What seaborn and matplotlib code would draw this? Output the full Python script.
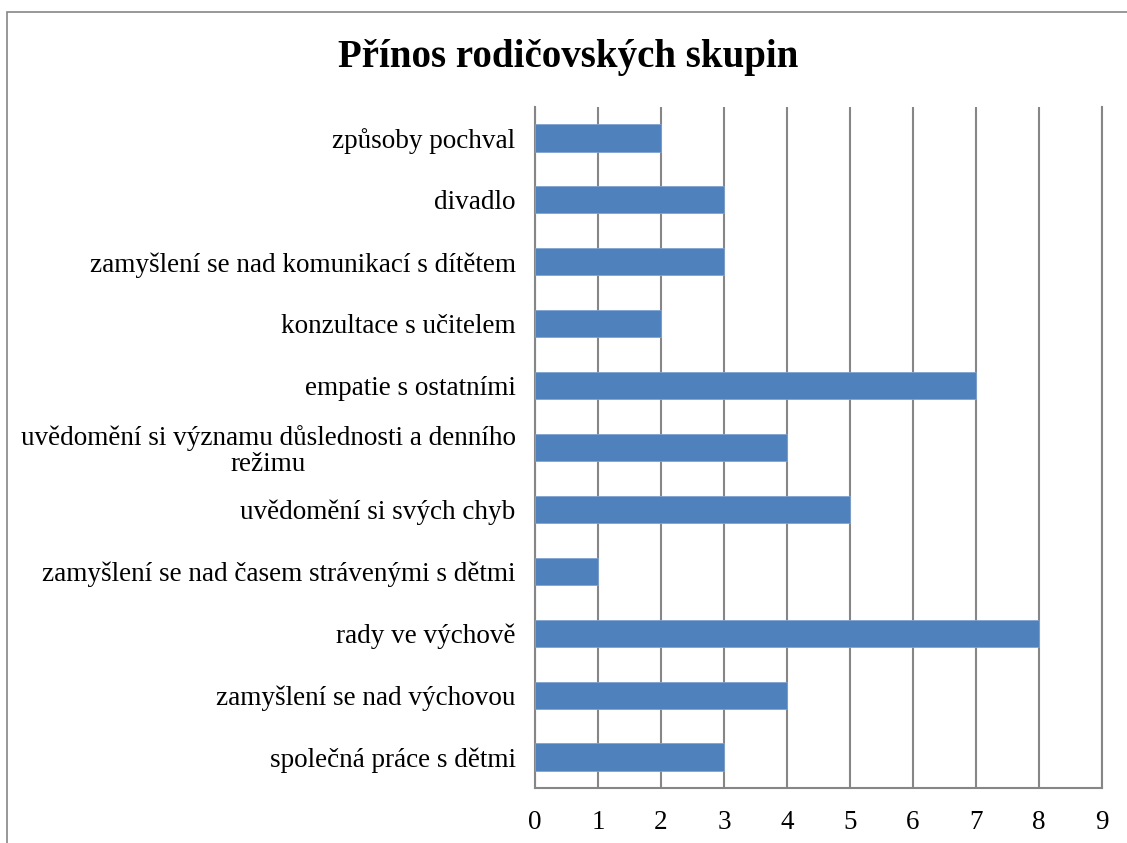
import pandas as pd
import matplotlib.pyplot as plt
import seaborn as sns
from matplotlib.patches import Rectangle

# --- Data (top to bottom as in the chart) ---
categories = [
    "způsoby pochval",
    "divadlo",
    "zamyšlení se nad komunikací s dítětem",
    "konzultace s učitelem",
    "empatie s ostatními",
    "uvědomění si významu důslednosti a denního\nrežimu",
    "uvědomění si svých chyb",
    "zamyšlení se nad časem strávenými s dětmi",
    "rady ve výchově",
    "zamyšlení se nad výchovou",
    "společná práce s dětmi",
]
values = [2, 3, 3, 2, 7, 4, 5, 1, 8, 4, 3]
x_ticks = list(range(0, 10))

df = pd.DataFrame({"kategorie": categories, "pocet": values})

sns.set_style("white")
plt.rcParams["font.family"] = ["Liberation Serif", "DejaVu Serif"]
plt.rcParams["text.color"] = "black"
plt.rcParams["xtick.color"] = "black"
plt.rcParams["ytick.color"] = "black"

fig = plt.figure(figsize=(11.27, 8.43), dpi=100)
ax = fig.add_axes([535 / 1127, 1 - 788 / 843, (1102 - 535) / 1127, (788 - 107) / 843])

sns.barplot(data=df, x="pocet", y="kategorie", orient="h", color="#4F81BD",
            saturation=1, width=0.44, edgecolor="#7FA3D0", linewidth=0.6, ax=ax, zorder=3)

ax.set_xlim(0, 9)
ax.set_xticks(x_ticks)
ax.grid(axis="x", color="#868686", linewidth=1.5, zorder=0)
ax.set_axisbelow(True)
ax.set_xlabel("")
ax.set_ylabel("")
ax.spines["top"].set_visible(False)
for s in ["left", "bottom", "right"]:
    ax.spines[s].set_color("#868686")
    ax.spines[s].set_linewidth(1.5)
ax.tick_params(axis="both", length=0, labelsize=19.5, labelcolor="black")
ax.tick_params(axis="y", pad=14)
ax.tick_params(axis="x", pad=16)
for lbl in ax.get_yticklabels():
    lbl.set_multialignment("center")
    lbl.set_linespacing(1.08)

fig.text(568 / 1127, 1 - 57 / 843, "Přínos rodičovských skupin", fontsize=28,
         fontweight="bold", ha="center", va="center", color="black")

# outer chart border (cropped on right and bottom)
fig.patches.append(Rectangle((7 / 1127, -0.05), 1.1, 1 - 12 / 843 + 0.05, transform=fig.transFigure,
                             fill=False, edgecolor="#868686", linewidth=1.2))

plt.savefig("out.png", dpi=100)
